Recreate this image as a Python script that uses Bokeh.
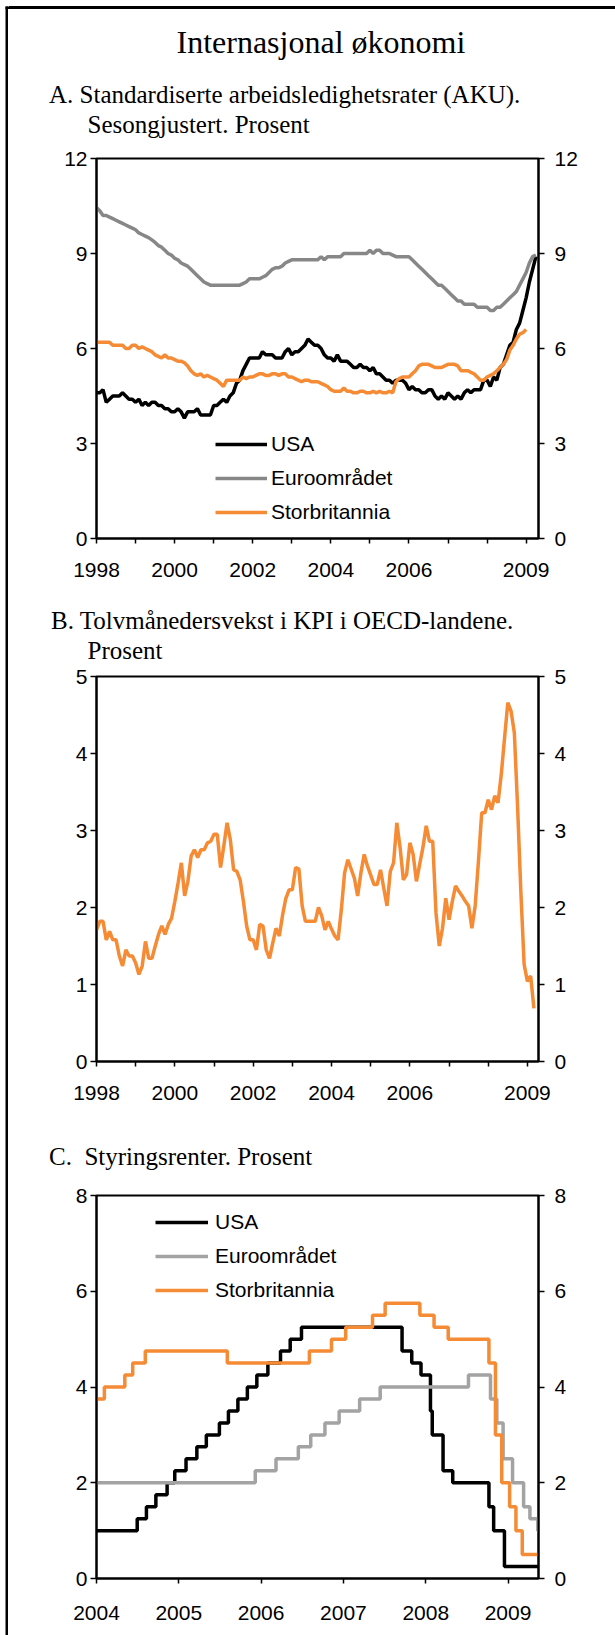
import datetime as dt
from bokeh.plotting import figure
from bokeh.models import (Range1d, LinearAxis, FixedTicker, Legend, LegendItem,
                          BoxAnnotation, Div)
from bokeh.layouts import column, row
from bokeh.embed import file_html
from bokeh.resources import INLINE

# ---------------- data ----------------
# Panel A: monthly unemployment, index 0 = Jan 1998
usa_unemp = [
    4.6, 4.6, 4.7, 4.3, 4.4, 4.5, 4.5, 4.5, 4.6, 4.5, 4.4, 4.4,
    4.3, 4.4, 4.2, 4.3, 4.2, 4.3, 4.3, 4.2, 4.2, 4.1, 4.1, 4.0,
    4.0, 4.1, 4.0, 3.8, 4.0, 4.0, 4.0, 4.1, 3.9, 3.9, 3.9, 3.9,
    4.2, 4.2, 4.3, 4.4, 4.3, 4.5, 4.6, 4.9, 5.0, 5.3, 5.5, 5.7,
    5.7, 5.7, 5.7, 5.9, 5.8, 5.8, 5.8, 5.7, 5.7, 5.7, 5.9, 6.0,
    5.8, 5.9, 5.9, 6.0, 6.1, 6.3, 6.2, 6.1, 6.1, 6.0, 5.8, 5.7,
    5.7, 5.6, 5.8, 5.6, 5.6, 5.6, 5.5, 5.4, 5.4, 5.5, 5.4, 5.4,
    5.3, 5.4, 5.2, 5.2, 5.1, 5.0, 5.0, 4.9, 5.0, 5.0, 5.0, 4.9,
    4.7, 4.8, 4.7, 4.7, 4.6, 4.6, 4.7, 4.7, 4.5, 4.4, 4.5, 4.4,
    4.6, 4.5, 4.4, 4.5, 4.4, 4.6, 4.7, 4.6, 4.7, 4.7, 4.7, 5.0,
    5.0, 4.8, 5.1, 5.0, 5.4, 5.5, 5.8, 6.1, 6.2, 6.6, 6.8, 7.2,
    7.6, 8.1, 8.5, 8.9]
euro_unemp = [
    10.45, 10.35, 10.2, 10.2, 10.15, 10.1, 10.05, 10.0, 9.95, 9.9, 9.85, 9.8,
    9.75, 9.65, 9.6, 9.55, 9.5, 9.43, 9.35, 9.25, 9.2, 9.1, 9.0, 8.95,
    8.85, 8.8, 8.7, 8.65, 8.6, 8.5, 8.4, 8.3, 8.2, 8.1, 8.05, 8.0,
    8.0, 8.0, 8.0, 8.0, 8.0, 8.0, 8.0, 8.0, 8.0, 8.05, 8.1, 8.2,
    8.2, 8.2, 8.2, 8.25, 8.3, 8.4, 8.5, 8.55, 8.55, 8.6, 8.7, 8.75,
    8.8, 8.8, 8.8, 8.8, 8.8, 8.8, 8.8, 8.8, 8.8, 8.9, 8.8, 8.9,
    8.9, 8.9, 8.9, 8.9, 9.0, 9.0, 9.0, 9.0, 9.0, 9.0, 9.0, 9.0,
    9.1, 9.0, 9.1, 9.1, 9.0, 9.0, 9.0, 8.95, 8.9, 8.9, 8.9, 8.9,
    8.9, 8.8, 8.7, 8.6, 8.5, 8.4, 8.3, 8.2, 8.1, 8.0, 8.0, 7.9,
    7.8, 7.7, 7.6, 7.5, 7.5, 7.4, 7.4, 7.4, 7.4, 7.3, 7.3, 7.3,
    7.3, 7.2, 7.2, 7.3, 7.3, 7.4, 7.5, 7.6, 7.7, 7.8, 8.0, 8.2,
    8.4, 8.7, 8.9, 8.95]
uk_unemp = [
    6.2, 6.2, 6.2, 6.2, 6.2, 6.1, 6.1, 6.1, 6.1, 6.0, 6.0, 6.1,
    6.1, 6.0, 6.05, 6.0, 5.95, 5.9, 5.8, 5.75, 5.7, 5.8, 5.7, 5.7,
    5.65, 5.6, 5.6, 5.55, 5.45, 5.3, 5.2, 5.15, 5.2, 5.1, 5.15, 5.1,
    5.05, 5.0, 4.9, 4.8, 5.0, 5.0, 5.0, 5.0, 5.0, 5.1, 5.05, 5.1,
    5.1, 5.15, 5.2, 5.2, 5.15, 5.15, 5.2, 5.2, 5.15, 5.2, 5.2, 5.1,
    5.1, 5.05, 5.0, 4.95, 5.0, 5.0, 4.95, 4.95, 4.95, 4.9, 4.85, 4.8,
    4.7, 4.65, 4.65, 4.65, 4.75, 4.65, 4.65, 4.6, 4.6, 4.65, 4.65, 4.6,
    4.6, 4.65, 4.6, 4.65, 4.6, 4.6, 4.65, 4.6, 4.95, 5.05, 5.1, 5.1,
    5.1, 5.2, 5.3, 5.45, 5.5, 5.5, 5.5, 5.45, 5.4, 5.4, 5.4, 5.45,
    5.5, 5.5, 5.5, 5.45, 5.3, 5.3, 5.3, 5.25, 5.2, 5.1, 5.0, 5.0,
    5.1, 5.15, 5.2, 5.3, 5.4, 5.5, 5.65, 5.95, 6.1, 6.3, 6.45, 6.5,
    6.6]

# Panel B: OECD CPI, twelve-month growth, index 0 = Jan 1998
oecd_cpi = [
    1.71, 1.82, 1.82, 1.58, 1.69, 1.58, 1.58, 1.37, 1.24, 1.45, 1.37, 1.37,
    1.28, 1.13, 1.24, 1.56, 1.34, 1.34, 1.50, 1.65, 1.76, 1.65, 1.78, 1.86,
    2.08, 2.32, 2.58, 2.15, 2.34, 2.67, 2.75, 2.65, 2.75, 2.75, 2.84, 2.86,
    2.95, 2.95, 2.52, 2.80, 3.10, 2.88, 2.49, 2.47, 2.36, 2.08, 1.76, 1.58,
    1.58, 1.45, 1.78, 1.76, 1.45, 1.34, 1.54, 1.73, 1.63, 1.90, 2.12, 2.23,
    2.23, 2.52, 2.50, 2.02, 1.82, 1.82, 1.82, 1.82, 2.00, 1.89, 1.71, 1.82,
    1.72, 1.63, 1.58, 1.97, 2.45, 2.62, 2.50, 2.38, 2.15, 2.45, 2.69, 2.54,
    2.42, 2.30, 2.30, 2.49, 2.25, 2.02, 2.47, 2.58, 3.10, 2.78, 2.36, 2.43,
    2.84, 2.69, 2.34, 2.56, 2.78, 3.06, 2.86, 2.86, 1.93, 1.50, 1.73, 2.12,
    1.84, 2.08, 2.28, 2.21, 2.15, 2.08, 2.02, 1.73, 2.02, 2.60, 3.23, 3.23,
    3.40, 3.27, 3.45, 3.36, 3.73, 4.20, 4.66, 4.55, 4.27, 3.30, 2.20, 1.26,
    1.04, 1.11, 0.69]

# Panel C: policy rates (change dates and new levels)
usa_dates = ["2004-01-01", "2004-06-30", "2004-08-10", "2004-09-21", "2004-11-10",
             "2004-12-14", "2005-02-02", "2005-03-22", "2005-05-03", "2005-06-30",
             "2005-08-09", "2005-09-20", "2005-11-01", "2005-12-13", "2006-01-31",
             "2006-03-28", "2006-05-10", "2006-06-29", "2007-09-18", "2007-10-31",
             "2007-12-11", "2008-01-22", "2008-01-30", "2008-03-18", "2008-04-30",
             "2008-10-08", "2008-10-29", "2008-12-16", "2009-05-15"]
usa_rates = [1.00, 1.25, 1.50, 1.75, 2.00, 2.25, 2.50, 2.75, 3.00, 3.25, 3.50, 3.75,
             4.00, 4.25, 4.50, 4.75, 5.00, 5.25, 4.75, 4.50, 4.25, 3.50, 3.00, 2.25,
             2.00, 1.50, 1.00, 0.25, 0.25]
euro_dates = ["2004-01-01", "2005-12-06", "2006-03-08", "2006-06-15", "2006-08-09",
              "2006-10-11", "2006-12-13", "2007-03-14", "2007-06-13", "2008-07-09",
              "2008-10-15", "2008-11-12", "2008-12-10", "2009-01-21", "2009-03-11",
              "2009-04-08", "2009-05-13", "2009-05-15"]
euro_rates = [2.00, 2.25, 2.50, 2.75, 3.00, 3.25, 3.50, 3.75, 4.00, 4.25, 3.75, 3.25,
              2.50, 2.00, 1.50, 1.25, 1.00, 1.00]
uk_dates = ["2004-01-01", "2004-02-05", "2004-05-06", "2004-06-10", "2004-08-05",
            "2005-08-04", "2006-08-03", "2006-11-09", "2007-01-11", "2007-05-10",
            "2007-07-05", "2007-12-06", "2008-02-07", "2008-04-10", "2008-10-08",
            "2008-11-06", "2008-12-04", "2009-01-08", "2009-02-05", "2009-03-05",
            "2009-05-15"]
uk_rates = [3.75, 4.00, 4.25, 4.50, 4.75, 4.50, 4.75, 5.00, 5.25, 5.50, 5.75, 5.50,
            5.25, 5.00, 4.50, 3.00, 2.00, 1.50, 1.00, 0.50, 0.50]

year_labels_ab = ["1998", "", "2000", "", "2002", "", "2004", "", "2006", "", "", "2009"]
year_labels_c = ["2004", "2005", "2006", "2007", "2008", "2009"]

series_names = ["USA", "Euroområdet", "Storbritannia"]

# ---------------- style ----------------
STRIP_W = 9
W = 606            # content width (page x 9..615)
SERIF = "Liberation Serif"
SANS = "Liberation Sans"
ORANGE = "#f58b34"
GRAY_A = "#878787"
GRAY_C = "#a3a3a3"
TICK_FS = "21px"
LW = 3.5
ASC = 0.8375       # baseline offset of Liberation Serif inside a line-height:1 box


def dec_year(s):
    d = dt.date.fromisoformat(s)
    start = dt.date(d.year, 1, 1)
    n = (dt.date(d.year + 1, 1, 1) - start).days
    return d.year + (d - start).days / n


def header(height, lines, top_rule=False):
    """HTML header block; lines = [(text, left_px, baseline_px, size_px)]."""
    parts = ['<div style="position:relative;width:%dpx;height:%dpx;overflow:hidden;'
             'margin:0;padding:0;background:#fff;">' % (W, height)]
    if top_rule:
        parts.append('<div style="position:absolute;left:0;top:6px;width:%dpx;'
                     'height:2.5px;background:#000;"></div>' % W)
    for text, left, base, size in lines:
        top = base - ASC * size
        parts.append('<span style="position:absolute;left:%.1fpx;top:%.1fpx;'
                     'font-family:\'%s\';font-size:%dpx;line-height:1;'
                     'white-space:pre;color:#000;">%s</span>'
                     % (left, top, SERIF, size, text))
    parts.append('</div>')
    return Div(text="".join(parts), width=W, height=height, margin=0)


def style_axis(ax, standoff, tick_out):
    ax.axis_line_width = 2
    ax.axis_line_color = "black"
    ax.major_tick_line_width = 1.5
    ax.major_tick_line_color = "black"
    ax.major_tick_in = 0
    ax.major_tick_out = tick_out
    ax.minor_tick_line_color = None
    ax.major_label_standoff = standoff
    ax.major_label_text_font = SANS
    ax.major_label_text_font_size = TICK_FS
    ax.major_label_text_color = "black"


def make_fig(height, top, bottom, right, xr, yr, yticks, xticks, xlabels, xstandoff):
    p = figure(width=W, height=height, x_range=xr, y_range=yr,
               output_backend="svg", toolbar_location=None,
               min_border_left=87, min_border_right=right,
               min_border_top=top, min_border_bottom=bottom)
    p.xgrid.visible = False
    p.ygrid.visible = False
    p.outline_line_color = "black"
    p.outline_line_width = 2
    p.outline_line_alpha = 1
    p.background_fill_color = "white"
    p.border_fill_color = "white"
    p.yaxis.ticker = FixedTicker(ticks=yticks)
    style_axis(p.yaxis[0], 3, 6)
    rax = LinearAxis(ticker=FixedTicker(ticks=yticks))
    style_axis(rax, 10, 6)
    p.add_layout(rax, "right")
    p.xaxis.ticker = FixedTicker(ticks=xticks)
    p.xaxis.major_label_overrides = {t: l for t, l in zip(xticks, xlabels)}
    style_axis(p.xaxis[0], xstandoff, 5)
    return p


def add_legend(p, renderers, loc, gw, standoff):
    items = [LegendItem(label=n, renderers=[r]) for n, r in zip(series_names, renderers)]
    lg = Legend(items=items, location=loc, glyph_width=gw, glyph_height=32,
                label_height=32, spacing=2, padding=0, margin=0,
                label_standoff=standoff, label_text_font=SANS,
                label_text_font_size=TICK_FS, label_text_color="black",
                background_fill_alpha=0, border_line_color=None)
    p.add_layout(lg)


# ---------------- left border strip ----------------
strip = figure(width=STRIP_W, height=1635, x_range=Range1d(0, STRIP_W),
               y_range=Range1d(1635, 0), x_axis_type=None, y_axis_type=None,
               output_backend="svg", toolbar_location=None, min_border=0)
strip.outline_line_color = None
strip.xgrid.visible = False
strip.ygrid.visible = False
strip.add_layout(BoxAnnotation(left=5, right=7.5, top=6, bottom=1635,
                               fill_color="black", fill_alpha=1, line_color=None))
strip.add_layout(BoxAnnotation(left=5, right=STRIP_W, top=6, bottom=8.5,
                               fill_color="black", fill_alpha=1, line_color=None))

# ---------------- Panel A ----------------
hA = header(140, [("Internasjonal økonomi", 167.5, 52.3, 32),
                  ("A. Standardiserte arbeidsledighetsrater (AKU).", 40, 103, 25),
                  ("Sesongjustert. Prosent", 78.5, 133, 25)], top_rule=True)

xticks_ab = list(range(0, 133, 12))
pA = make_fig(450, 18, 52, 77, Range1d(0, 135.8), Range1d(0, 12),
              [0, 3, 6, 9, 12], xticks_ab, year_labels_ab, 19)
rA_usa = pA.line(list(range(len(usa_unemp))), usa_unemp, line_color="black", line_width=LW)
rA_eur = pA.line(list(range(len(euro_unemp))), euro_unemp, line_color=GRAY_A, line_width=LW)
rA_uk = pA.line(list(range(len(uk_unemp))), uk_unemp, line_color=ORANGE, line_width=LW)
add_legend(pA, [rA_usa, rA_eur, rA_uk], (119, 10), 52, 4)

# ---------------- Panel B ----------------
hB = header(74, [("B. Tolvmånedersvekst i KPI i OECD-landene.", 42, 39, 25),
                 ("Prosent", 78.5, 68.5, 25)])

pB = make_fig(446, 12, 49, 77, Range1d(0, 135.4), Range1d(0, 5),
              [0, 1, 2, 3, 4, 5], xticks_ab, year_labels_ab, 19)
pB.line(list(range(len(oecd_cpi))), oecd_cpi, line_color=ORANGE, line_width=LW)

# ---------------- Panel C ----------------
hC = header(70, [("C.&nbsp; Styringsrenter. Prosent", 40, 55, 25)])

xticks_c = [2004, 2005, 2006, 2007, 2008, 2009]
pC = make_fig(455, 15, 57, 75, Range1d(2004.0, 2009.37), Range1d(0, 8),
              [0, 2, 4, 6, 8], xticks_c, year_labels_c, 22)
rC_usa = pC.step([dec_year(d) for d in usa_dates], usa_rates, mode="after",
                 line_color="black", line_width=LW)
rC_eur = pC.step([dec_year(d) for d in euro_dates], euro_rates, mode="after",
                 line_color=GRAY_C, line_width=LW)
rC_uk = pC.step([dec_year(d) for d in uk_dates], uk_rates, mode="after",
                line_color=ORANGE, line_width=LW)
add_legend(pC, [rC_usa, rC_eur, rC_uk], (59, 272), 53, 7)

content = column(hA, pA, hB, pB, hC, pC, spacing=0)
layout = row(strip, content, spacing=0)
open("out.html", "w").write(file_html(layout, INLINE))
